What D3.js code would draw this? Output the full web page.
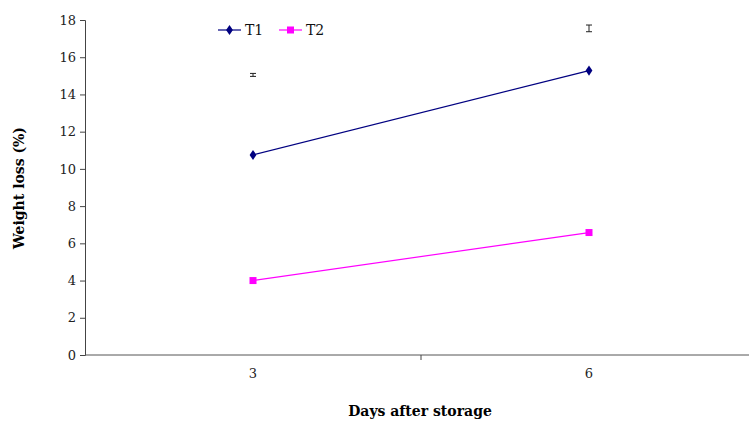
<!DOCTYPE html>
<html><head><meta charset="utf-8">
<script src="https://cdn.jsdelivr.net/npm/d3@7"></script>
<style>body{margin:0;background:#fff}svg{display:block}</style>
</head><body>
<svg id="c" width="749" height="421"></svg>
<script>
const categories = ["3", "6"];
const t1Values = [10.75, 15.28];
const t2Values = [4.0, 6.58];
const errCenters = [15.05, 17.55];
const errHalf = [0.08, 0.18];
const yTicks = [0, 2, 4, 6, 8, 10, 12, 14, 16, 18];
const seriesNames = ["T1", "T2"];

const svg = d3.select("#c");
const font = "'Palatino Linotype','Book Antiqua',Palatino,'DejaVu Serif',serif";
const x = d3.scaleBand().domain(categories).range([85, 757]).padding(0);
const y = d3.scaleLinear().domain([0, 18]).range([355, 20]);
const cx = d => x(d) + x.bandwidth() / 2;

// Y axis
const ya = svg.append("g").attr("transform", "translate(85,0)")
  .call(d3.axisLeft(y).tickValues(yTicks).tickSize(5).tickPadding(4));
ya.select(".domain").attr("stroke", "#444");
ya.selectAll(".tick line").attr("stroke", "#444");
ya.selectAll("text").attr("font-family", font).attr("font-size", 13).attr("fill", "#222");

// X axis
const xa = svg.append("g").attr("transform", "translate(0,355)")
  .call(d3.axisBottom(x).tickSize(0).tickPadding(14));
xa.select(".domain").attr("stroke", "#555").attr("d", "M85,0H749");
xa.selectAll("text").attr("font-family", font).attr("font-size", 13).attr("fill", "#222");
// boundary ticks
svg.append("g").selectAll("line").data(categories.slice(1)).join("line")
  .attr("x1", d => x(d)).attr("x2", d => x(d))
  .attr("y1", 355).attr("y2", 360).attr("stroke", "#444");

// lines
const line = d3.line().x((d, i) => cx(categories[i])).y(d => y(d));
svg.append("path").datum(t1Values).attr("d", line).attr("fill", "none").attr("stroke", "#000080").attr("stroke-width", 1.2);
svg.append("path").datum(t2Values).attr("d", line).attr("fill", "none").attr("stroke", "#ff00ff").attr("stroke-width", 1.2);

// markers
svg.append("g").selectAll("path").data(t1Values).join("path")
  .attr("d", d3.symbol(d3.symbolDiamond, 40))
  .attr("transform", (d, i) => `translate(${cx(categories[i])},${y(d)}) scale(1,0.85)`)
  .attr("fill", "#000080");
svg.append("g").selectAll("rect").data(t2Values).join("rect")
  .attr("x", (d, i) => cx(categories[i]) - 3.5).attr("y", d => y(d) - 3.5)
  .attr("width", 7).attr("height", 7).attr("fill", "#ff00ff");

// error bars
const eb = svg.append("g").attr("stroke", "#222").attr("stroke-width", 1);
errCenters.forEach((c, i) => {
  const xx = cx(categories[i]);
  const y1 = y(c + errHalf[i]), y2 = y(c - errHalf[i]);
  eb.append("line").attr("x1", xx).attr("x2", xx).attr("y1", y1).attr("y2", y2);
  eb.append("line").attr("x1", xx - 3).attr("x2", xx + 3).attr("y1", y1).attr("y2", y1);
  eb.append("line").attr("x1", xx - 3).attr("x2", xx + 3).attr("y1", y2).attr("y2", y2);
});

// legend
const lg = svg.append("g");
const lx = [218, 279];
seriesNames.forEach((n, i) => {
  const col = i === 0 ? "#000080" : "#ff00ff";
  lg.append("line").attr("x1", lx[i]).attr("x2", lx[i] + 23).attr("y1", 30).attr("y2", 30).attr("stroke", col).attr("stroke-width", 1.2);
  if (i === 0) {
    lg.append("path").attr("d", d3.symbol(d3.symbolDiamond, 40)).attr("transform", `translate(${lx[i] + 11.5},30) scale(1,0.85)`).attr("fill", col);
  } else {
    lg.append("rect").attr("x", lx[i] + 8).attr("y", 26.5).attr("width", 7).attr("height", 7).attr("fill", col);
  }
  lg.append("text").attr("x", lx[i] + 27).attr("y", 35).text(n)
    .attr("font-family", font).attr("font-size", 14).attr("fill", "#111");
});

// titles
svg.append("text").attr("x", 420).attr("y", 416).attr("text-anchor", "middle")
  .attr("font-family", font).attr("font-weight", "bold").attr("font-size", 14).text("Days after storage");
svg.append("text").attr("transform", "translate(24,188) rotate(-90)").attr("text-anchor", "middle")
  .attr("font-family", font).attr("font-weight", "bold").attr("font-size", 14).text("Weight loss (%)");
</script>
</body></html>
